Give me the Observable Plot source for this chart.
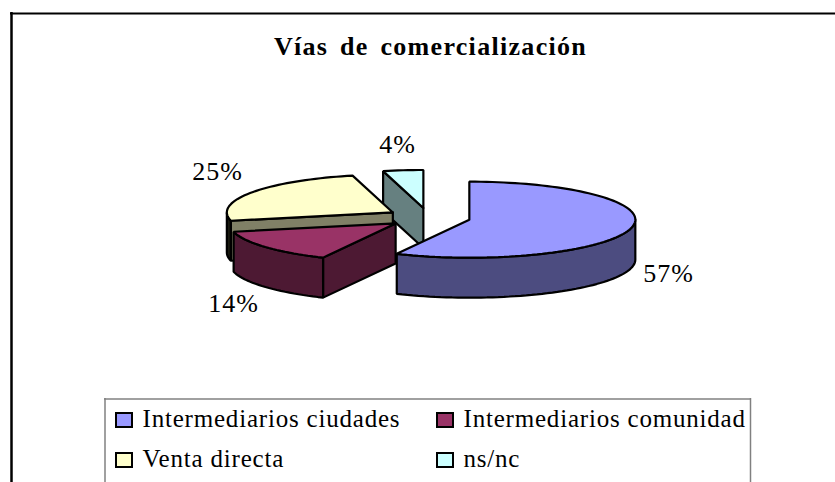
<!DOCTYPE html>
<html><head><meta charset="utf-8">
<script src="https://cdn.jsdelivr.net/npm/d3@7"></script>
<script src="https://cdn.jsdelivr.net/npm/@observablehq/plot@0.6"></script>
<style>html,body{margin:0;padding:0;background:#fff;overflow:hidden}svg{display:block}</style>
</head><body><div id="chart"></div>
<script>
const title = "Vías de comercialización";
const categories = ["Intermediarios ciudades","Intermediarios comunidad","Venta directa","ns/nc"];
const values = [57.2,14.3,24.6,3.9];
const topColors = ["#9999ff","#993366","#ffffcc","#ccffff"];
const wallColors = ["#4c4c80","#4d1933","#808066","#668080"];
const outerWallColors = ["#4c4c80","#4d1933","#1a1a10","#668080"];
const labelX = [668,233,217,397];
const labelY = [273,303,171,144];
const legendX = [116,437,116,437];
const legendY = [413,413,453,453];
const drawOrder = [3,2,1,0];

const pie = {cx:428, cy:217, rx:166, ry:38, depth:40, explode:0.2524};
const font = "'Liberation Serif','Times New Roman',serif";
const rad = d => d*Math.PI/180;
const total = d3.sum(values);
let acc = 0;
const slices = values.map((v,i)=>{
  const a0 = acc/total*360; acc += v; const a1 = acc/total*360; const mid=(a0+a1)/2;
  return {i,a0,a1,
    cx:pie.cx+pie.explode*pie.rx*Math.sin(rad(mid)),
    cy:pie.cy-pie.explode*pie.ry*Math.cos(rad(mid))};
});
const pt=(s,a,dz=0)=>({x:s.cx+pie.rx*Math.sin(rad(a)),y:s.cy-pie.ry*Math.cos(rad(a))+dz});
const arc=(s,a,b,dz=0)=>{const n=Math.max(2,Math.ceil((b-a)/2));return d3.range(n+1).map(k=>pt(s,a+(b-a)*k/n,dz));};
const closed=p=>[...p,p[0]];
const face=(pts,fill)=>Plot.line(closed(pts),{x:"x",y:"y",fill,stroke:"#000",strokeWidth:2.2,strokeLinejoin:"miter",curve:"linear"});

const marks=[];
marks.push(Plot.ruleX([11],{y1:12,y2:482,stroke:"#000",strokeWidth:2.5}));
marks.push(Plot.ruleY([13],{x1:10,x2:835,stroke:"#000",strokeWidth:2}));
marks.push(Plot.text([title],{x:430,y:46,text:d=>d,fontFamily:font,fontWeight:"bold",fontSize:26,fill:"#000",textAnchor:"middle"}));

for(const j of drawOrder){
  const s=slices[j];
  const apex={x:s.cx,y:s.cy}, apexB={x:s.cx,y:s.cy+pie.depth};
  if(Math.sin(rad(s.a0))<0) marks.push(face([apex,pt(s,s.a0),pt(s,s.a0,pie.depth),apexB],wallColors[j]));
  if(Math.sin(rad(s.a1))>0.001) marks.push(face([apex,pt(s,s.a1),pt(s,s.a1,pie.depth),apexB],wallColors[j]));
  const w0=Math.max(s.a0,90), w1=Math.min(s.a1,270);
  if(w1>w0) marks.push(face([...arc(s,w0,w1),...arc(s,w0,w1,pie.depth).reverse()],outerWallColors[j]));
  marks.push(face([apex,...arc(s,s.a0,s.a1)],topColors[j]));
}
marks.push(Plot.text(values,{x:(d,i)=>labelX[i],y:(d,i)=>labelY[i],text:d=>Math.round(d)+"%",fontFamily:font,fontSize:26,fill:"#000",textAnchor:"middle",lineAnchor:"middle"}));

marks.push(Plot.ruleY([398.5],{x1:104,x2:750,stroke:"#808080",strokeWidth:1.5}));
marks.push(Plot.ruleX([104.5],{y1:398,y2:482,stroke:"#808080",strokeWidth:1.5}));
marks.push(Plot.ruleX([750],{y1:398,y2:482,stroke:"#808080",strokeWidth:1.5}));
marks.push(Plot.rect(categories,{x1:(d,i)=>legendX[i],x2:(d,i)=>legendX[i]+16,y1:(d,i)=>legendY[i],y2:(d,i)=>legendY[i]+14,fill:(d,i)=>topColors[i],stroke:"#000",strokeWidth:2}));
marks.push(Plot.text(categories,{x:(d,i)=>legendX[i]+26,y:(d,i)=>legendY[i]+13,text:d=>d,fontFamily:font,fontSize:25,fill:"#000",textAnchor:"start",lineAnchor:"bottom"}));

const chart=Plot.plot({width:835,height:482,margin:0,
  x:{domain:[0,835],range:[0,835],axis:null},
  y:{domain:[0,482],range:[0,482],axis:null},
  color:{type:"identity"},
  style:{background:"#fff",overflow:"hidden"},
  marks});
d3.select(chart).selectAll("text").each(function(){
  const t=this.textContent;
  if(t===title){this.style.letterSpacing="1.3px";this.style.wordSpacing="4px";}
  else if(categories.includes(t)){this.style.letterSpacing="0.8px";}
  else {this.style.letterSpacing="1px";}
});
document.getElementById("chart").appendChild(chart);
</script></body></html>
